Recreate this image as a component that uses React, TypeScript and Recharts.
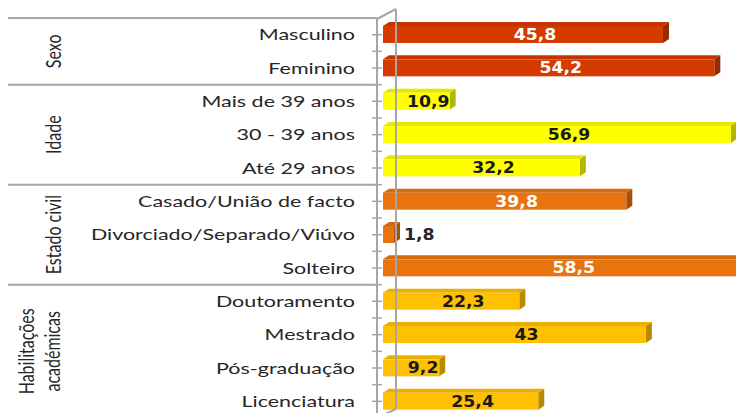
import { BarChart, Bar, XAxis, YAxis, LabelList } from "recharts";

const categories = [
  "Masculino",
  "Feminino",
  "Mais de 39 anos",
  "30 - 39 anos",
  "Até 29 anos",
  "Casado/União de facto",
  "Divorciado/Separado/Viúvo",
  "Solteiro",
  "Doutoramento",
  "Mestrado",
  "Pós-graduação",
  "Licenciatura",
];
const values = [45.8, 54.2, 10.9, 56.9, 32.2, 39.8, 1.8, 58.5, 22.3, 43, 9.2, 25.4];

const groupLabels = [["Sexo"], ["Idade"], ["Estado civil"], ["Habilitações", "académicas"]];
const groupSizes = [2, 3, 3, 4];

const groupColors = ["#d53b00", "#ffff00", "#e8740f", "#ffc000"];
const groupSideColors = ["#962a00", "#b5b500", "#a4520a", "#b88a00"];
const groupTopColors = ["#c23500", "#e6e600", "#d46a0c", "#eab000"];
const groupTextColors = ["#ffffff", "#1a1a1a", "#ffffff", "#1a1a1a"];

// group index for each row
const groupOf: number[] = groupSizes.flatMap((n, g) => Array(n).fill(g));
const groupStart: number[] = groupSizes.map((_, g) =>
  groupSizes.slice(0, g).reduce((a, b) => a + b, 0)
);

const data = categories.map((name, i) => ({ name, value: values[i], group: groupOf[i] }));

const W = 760;
const H = 430;
const MARGIN = { top: 18, right: 4, bottom: 12, left: 0 };
const AXIS_W = 377;
const BAND = (H - MARGIN.top - MARGIN.bottom) / categories.length;
const DX = 6;
const DY = 4;
const GRAY = "#a6a6a6";

const labelFont = "Lato, 'Open Sans', sans-serif";
const valueFont = "'DejaVu Sans', Verdana, sans-serif";

function CategoryTick(props: any) {
  const { x, y, payload, index } = props;
  const i = payload?.index ?? index;
  const g = groupOf[i];
  const axisX = AXIS_W;
  const items: any[] = [];

  // tick marks at center and at the band boundary
  items.push(<line key="t1" x1={axisX - 5} x2={axisX + 5} y1={y} y2={y} stroke={GRAY} strokeWidth={1.5} />);
  items.push(
    <line key="t2" x1={axisX - 5} x2={axisX + 5} y1={y + BAND / 2} y2={y + BAND / 2} stroke={GRAY} strokeWidth={1.5} />
  );

  if (i === groupStart[g]) {
    const top = y - BAND / 2;
    items.push(<line key="sep" x1={8} x2={axisX} y1={top} y2={top} stroke={GRAY} strokeWidth={2} />);
    const lines = groupLabels[g];
    const cy = y + ((groupSizes[g] - 1) * BAND) / 2;
    lines.forEach((ln, k) => {
      const cx = lines.length === 1 ? 54 : 27 + k * 26;
      items.push(
        <text
          key={"g" + k}
          transform={`translate(${cx},${cy}) scale(1.3,1) rotate(-90)`}
          textAnchor="middle"
          dy="0.35em"
          fontFamily={labelFont}
          fontSize={16}
          fill="#262626"
        >
          {ln}
        </text>
      );
    });
  }

  if (i === 0) {
    // back wall of the 3D frame
    const top = y - BAND / 2;
    const wallX = axisX + 19;
    items.push(<line key="w1" x1={axisX} y1={top + 1} x2={wallX} y2={top - 9} stroke={GRAY} strokeWidth={2} />);
    items.push(<line key="w2" x1={wallX} y1={top - 9} x2={wallX} y2={top - 9 + BAND * 12} stroke={GRAY} strokeWidth={2} />);
    items.push(
      <line key="w3" x1={axisX} y1={top + BAND * 12} x2={wallX} y2={top - 9 + BAND * 12} stroke={GRAY} strokeWidth={2} />
    );
  }

  return (
    <g>
      {items}
      <text
        transform={`translate(${x},${y}) scale(1.36,1)`}
        textAnchor="end"
        dy="0.36em"
        fontFamily={labelFont}
        fontSize={15.8}
        fill="#262626"
      >
        {payload.value}
      </text>
    </g>
  );
}

function Bar3D(props: any) {
  const { x, y, width, height, payload } = props;
  const g = payload.group;
  const x0 = x + DX;
  const x1 = x0 + width;
  return (
    <g>
      <polygon
        points={`${x0},${y} ${x0 + DX},${y - DY} ${x1 + DX},${y - DY} ${x1},${y}`}
        fill={groupTopColors[g]}
      />
      <polygon
        points={`${x1},${y} ${x1 + DX},${y - DY} ${x1 + DX},${y + height - DY} ${x1},${y + height}`}
        fill={groupSideColors[g]}
      />
      <rect x={x0} y={y} width={width} height={height} fill={groupColors[g]} />
    </g>
  );
}

function ValueLabel(props: any) {
  const { x, y, width, height, value, index } = props;
  const g = groupOf[index];
  const text = String(value).replace(".", ",");
  const outside = width < 30;
  const cx = outside ? x + DX + width + DX + 4 : x + DX + width / 2 + 12;
  return (
    <text
      transform={`translate(${cx},${y + height / 2}) scale(1.15,1)`}
      textAnchor={outside ? "start" : "middle"}
      dy="0.36em"
      fontFamily={valueFont}
      fontWeight="bold"
      fontSize={15}
      fill={outside ? "#262626" : groupTextColors[g]}
    >
      {text}
    </text>
  );
}

export default function App() {
  return (
    <div
      style={{
        position: "absolute",
        left: 0,
        top: 0,
        width: 736,
        height: 413,
        overflow: "hidden",
        background: "#fff",
      }}
    >
      <BarChart width={W} height={H} data={data} layout="vertical" margin={MARGIN}>
        <XAxis type="number" domain={[0, 62]} hide />
        <YAxis
          type="category"
          dataKey="name"
          width={AXIS_W}
          interval={0}
          axisLine={{ stroke: GRAY, strokeWidth: 2 }}
          tickLine={false}
          tickSize={0}
          tickMargin={22}
          tick={<CategoryTick />}
        />
        <Bar dataKey="value" barSize={17} shape={<Bar3D />} isAnimationActive={false}>
          <LabelList dataKey="value" content={<ValueLabel />} />
        </Bar>
      </BarChart>
    </div>
  );
}
